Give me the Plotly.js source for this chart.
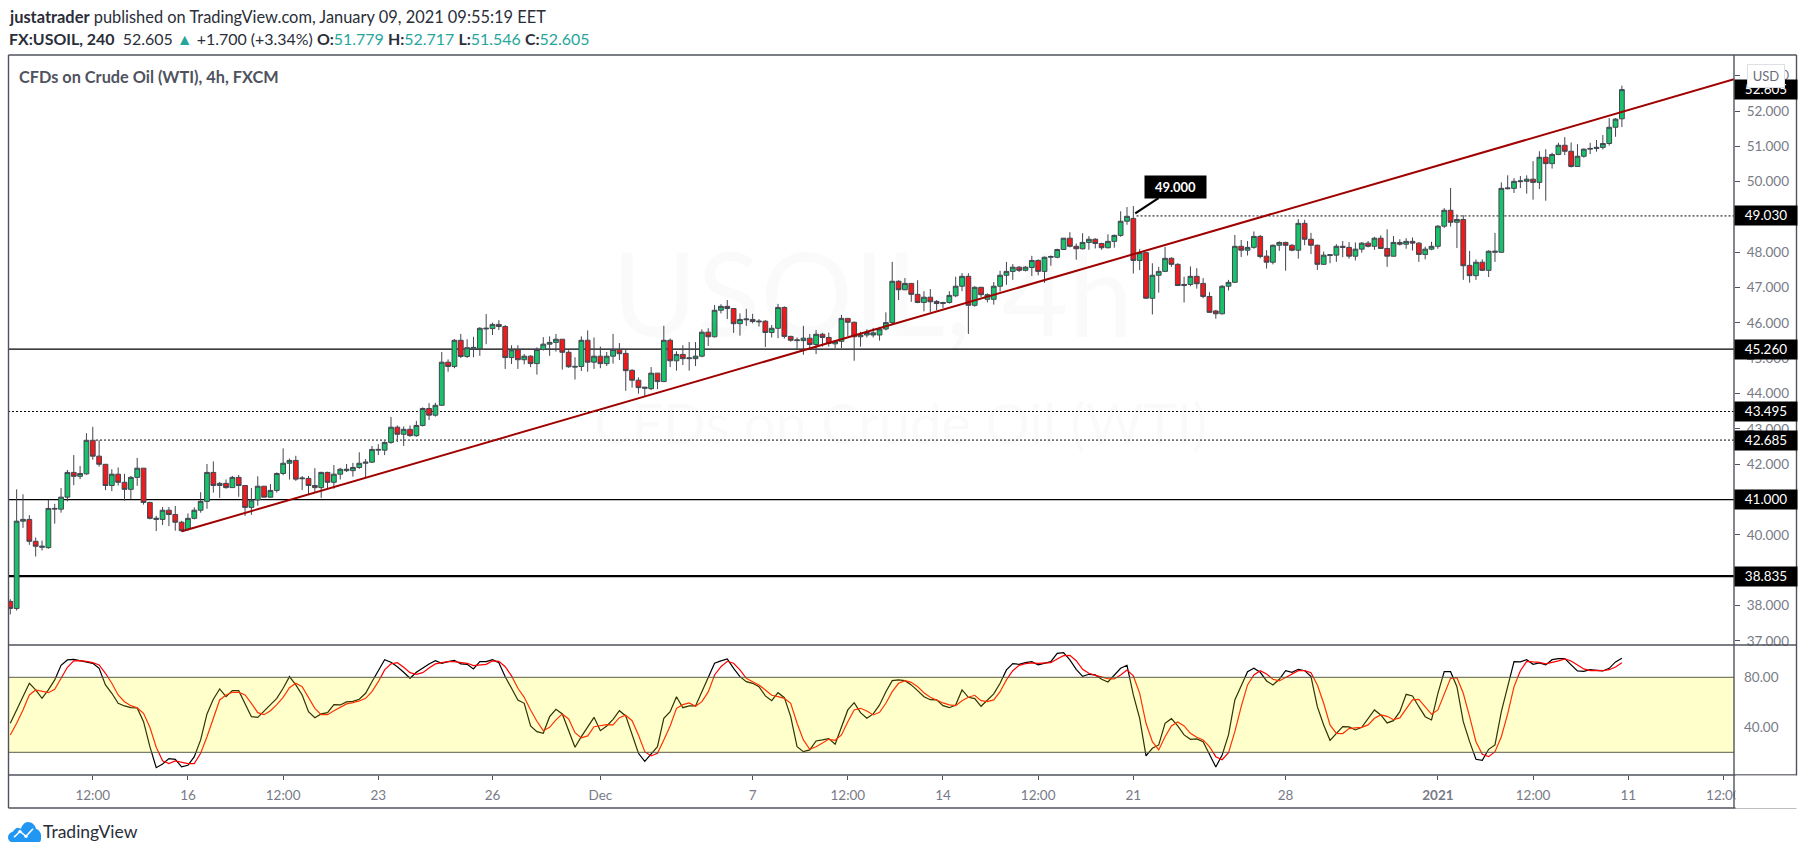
<!DOCTYPE html>
<html><head><meta charset="utf-8">
<script src="https://cdn.plot.ly/plotly-3.0.1.min.js"></script>
<style>html,body{margin:0;padding:0;background:#fff;overflow:hidden}#c{width:1805px;height:855px}</style>
</head><body><div id="c"></div>
<script>
const opens=[38.12,37.92,40.39,40.44,39.82,39.65,39.64,40.73,40.73,41.07,
41.77,41.66,41.73,42.68,42.23,42.00,41.40,41.72,41.49,41.29,
41.63,41.89,40.92,40.44,40.44,40.70,40.58,40.36,40.16,40.47,
40.70,40.95,41.77,41.40,41.46,41.34,41.63,41.40,40.78,40.99,
41.38,41.07,41.26,41.74,42.03,42.11,41.59,41.60,41.40,41.34,
41.77,41.49,41.72,41.82,41.82,41.91,42.03,42.06,42.40,42.40,
42.62,43.05,42.85,42.99,42.81,43.10,43.58,43.39,43.67,44.89,
44.77,45.51,45.05,45.26,45.27,45.83,45.84,45.96,45.90,45.02,
45.24,44.96,45.06,44.85,45.25,45.40,45.45,45.54,45.17,44.75,
44.77,45.51,44.89,45.06,44.85,45.06,45.25,45.14,44.66,44.38,
44.15,44.14,44.58,44.34,45.51,44.93,45.11,44.99,44.99,45.06,
45.74,45.61,46.36,46.47,46.41,45.98,46.09,46.10,46.03,46.05,
45.73,45.85,46.44,45.62,45.50,45.50,45.57,45.39,45.68,45.59,
45.41,45.48,46.13,46.02,45.61,45.66,45.66,45.66,45.83,46.01,
47.18,46.94,47.12,46.81,46.58,46.73,46.61,46.55,46.58,46.77,
47.04,47.32,46.50,47.01,46.67,46.67,47.04,47.35,47.46,47.58,
47.49,47.57,47.77,47.46,47.86,47.86,48.08,48.40,48.17,48.10,
48.28,48.37,48.25,48.13,48.31,48.48,48.88,48.96,47.77,47.99,
46.70,47.35,47.46,47.83,47.66,47.06,47.09,47.32,47.12,46.75,
46.34,46.26,47.04,47.15,48.17,48.06,48.14,48.45,47.89,47.72,
48.20,48.28,48.20,48.06,48.82,48.37,48.20,47.66,47.91,47.92,
48.17,48.14,47.89,48.09,48.26,48.17,48.40,48.11,47.89,48.28,
48.23,48.31,48.26,47.94,48.09,48.17,48.74,49.19,48.85,48.93,
47.63,47.34,47.72,47.49,48.00,48.00,49.80,49.81,50.00,50.01,
50.07,49.98,50.69,50.51,50.77,51.03,50.86,50.43,50.72,50.92,
50.94,50.97,51.08,51.54,51.779];
const highs=[38.18,41.29,41.15,40.56,39.93,39.84,40.99,40.88,41.33,41.84,
42.26,41.95,42.88,43.06,42.68,42.00,41.86,41.91,41.73,41.67,
42.18,41.89,40.94,40.54,40.79,40.79,40.82,40.40,40.61,40.78,
41.21,42.01,42.08,41.50,41.57,41.67,41.70,41.41,41.33,41.66,
41.38,41.44,41.77,42.45,42.16,42.24,41.67,41.67,41.89,41.79,
41.79,41.98,41.90,42.01,42.04,42.34,42.15,42.52,42.57,42.65,
43.34,43.10,43.07,43.10,43.23,43.61,43.73,43.74,45.18,44.97,
45.54,45.69,45.54,45.61,45.88,46.25,46.01,46.08,45.94,45.37,
45.37,45.12,45.09,45.31,45.60,45.62,45.69,45.54,45.23,45.03,
45.62,45.79,45.59,45.33,45.18,45.69,45.43,45.24,44.69,44.46,
44.18,44.75,44.58,45.92,45.56,45.20,45.37,45.46,45.46,45.82,
45.85,46.51,46.53,46.65,46.42,46.27,46.40,46.26,46.11,46.08,
45.94,46.54,46.47,45.64,45.59,45.92,45.69,45.80,45.72,45.73,
45.52,46.23,46.14,46.04,45.75,45.82,45.86,45.89,46.30,47.73,
47.21,47.27,47.13,47.21,46.90,46.96,46.65,46.60,46.90,47.31,
47.41,47.41,47.04,47.02,46.84,47.16,47.48,47.73,47.67,47.61,
47.61,47.90,47.80,47.88,47.91,48.10,48.40,48.57,48.25,48.54,
48.46,48.40,48.27,48.51,48.50,49.16,49.28,49.31,48.09,48.01,
47.69,47.59,48.15,47.86,47.69,47.31,47.60,47.55,47.27,46.87,
46.37,47.07,47.22,48.49,48.35,48.32,48.59,48.49,48.06,48.22,
48.31,48.30,48.23,48.94,48.92,48.55,48.22,48.02,47.93,48.23,
48.32,48.29,48.28,48.29,48.32,48.44,48.48,48.65,48.46,48.37,
48.40,48.42,48.29,48.16,48.30,48.77,49.25,49.82,49.07,49.05,
48.04,47.80,47.80,48.06,48.55,49.98,50.18,50.10,50.16,50.18,
50.58,50.86,50.92,50.82,51.10,51.26,51.11,51.06,50.94,51.10,
51.18,51.32,51.80,51.80,52.717];
const lows=[37.75,37.86,40.20,39.72,39.39,39.56,39.61,40.32,40.63,40.95,
41.41,41.58,41.70,42.13,41.93,41.27,41.24,41.40,40.97,41.01,
41.39,40.86,40.44,40.11,40.28,40.25,40.12,40.08,40.12,40.44,
40.63,40.74,41.20,41.05,41.31,41.34,41.08,40.54,40.57,40.83,
41.07,41.06,41.20,41.69,41.57,41.53,41.27,41.15,41.20,41.05,
41.32,41.31,41.57,41.78,41.65,41.87,41.64,42.04,42.26,42.26,
42.58,42.63,42.52,42.78,42.78,43.07,43.25,43.35,43.66,44.62,
44.72,45.01,45.01,45.03,45.07,45.40,45.66,45.80,44.70,44.84,
44.70,44.83,44.75,44.54,45.22,45.07,45.19,44.68,44.73,44.40,
44.64,44.62,44.70,44.72,44.78,44.85,44.95,44.08,44.17,44.00,
43.92,44.10,44.13,44.33,44.75,44.65,44.81,44.65,44.78,45.03,
45.35,45.59,46.27,46.11,45.72,45.64,45.92,45.99,45.90,45.32,
45.59,45.57,45.56,45.47,45.25,45.10,45.26,45.12,45.33,45.33,
45.29,45.29,45.63,44.93,45.33,45.59,45.59,45.50,45.79,45.97,
46.65,46.93,46.60,46.56,46.33,46.31,46.36,46.42,46.55,46.73,
46.90,45.69,46.46,46.73,46.58,46.52,46.89,47.08,47.22,47.44,
47.46,47.33,47.35,47.14,47.62,47.83,48.07,48.14,47.79,48.08,
48.07,48.11,48.07,48.11,48.13,48.44,48.78,47.40,47.50,46.70,
46.24,46.86,47.44,47.59,47.05,46.58,47.04,46.97,46.70,46.28,
46.12,46.24,46.92,47.14,47.87,47.91,48.10,47.83,47.54,47.66,
48.04,47.48,48.03,47.82,48.20,47.95,47.50,47.64,47.69,47.73,
47.86,47.82,47.77,47.99,48.14,48.07,48.09,47.59,47.88,48.19,
48.10,48.05,47.73,47.80,48.06,48.10,48.69,48.73,48.12,47.22,
47.14,47.22,47.47,47.30,47.73,47.99,49.78,49.68,49.82,49.66,
49.49,49.79,49.46,50.37,50.75,50.75,50.40,50.42,50.68,50.78,
50.85,50.91,51.02,51.27,51.546];
const closes=[37.92,40.39,40.44,39.82,39.68,39.68,40.75,40.75,41.07,41.77,
41.66,41.74,42.68,42.23,42.00,41.40,41.72,41.49,41.29,41.63,
41.89,40.92,40.47,40.47,40.70,40.58,40.36,40.12,40.47,40.70,
40.95,41.77,41.40,41.46,41.34,41.63,41.40,40.78,40.99,41.38,
41.07,41.26,41.74,42.03,42.11,41.58,41.61,41.40,41.34,41.77,
41.49,41.72,41.86,41.86,41.91,42.03,42.06,42.42,42.42,42.62,
43.05,42.85,42.99,42.81,43.10,43.58,43.39,43.67,44.89,44.77,
45.51,45.05,45.30,45.31,45.85,45.85,45.96,45.90,45.02,45.24,
44.96,45.06,44.85,45.25,45.40,45.45,45.54,45.17,44.76,44.77,
45.51,44.89,45.06,44.85,45.06,45.25,45.13,44.65,44.38,44.17,
44.18,44.58,44.34,45.51,44.93,45.11,44.99,45.01,45.06,45.74,
45.61,46.36,46.47,46.41,45.98,46.10,46.11,46.04,46.05,45.73,
45.85,46.44,45.62,45.51,45.52,45.57,45.39,45.68,45.59,45.42,
45.48,46.13,46.02,45.61,45.66,45.73,45.72,45.83,46.01,47.18,
46.94,47.12,46.81,46.58,46.73,46.60,46.55,46.58,46.78,47.04,
47.32,46.50,47.01,46.80,46.80,47.04,47.35,47.46,47.58,47.49,
47.58,47.77,47.46,47.86,47.88,48.08,48.40,48.17,48.10,48.28,
48.37,48.25,48.13,48.31,48.48,48.88,49.02,47.77,47.99,46.70,
47.35,47.46,47.83,47.66,47.06,47.09,47.32,47.11,46.75,46.30,
46.26,47.04,47.15,48.17,48.06,48.14,48.45,47.88,47.72,48.20,
48.28,48.20,48.06,48.82,48.37,48.20,47.66,47.92,47.93,48.17,
48.14,47.89,48.09,48.26,48.17,48.40,48.11,47.89,48.28,48.23,
48.31,48.26,47.94,48.09,48.17,48.74,49.19,48.85,48.93,47.62,
47.34,47.72,47.49,48.03,48.03,49.81,49.82,50.01,50.02,50.07,
49.98,50.69,50.51,50.77,51.03,50.86,50.43,50.72,50.92,50.94,
50.97,51.08,51.54,51.77,52.605];
const stochK=[43.2,53.9,64.5,75.2,69.9,63.2,69.9,77.9,89.6,93.9,
94.4,93.3,92.5,91.2,87.2,73.9,67.2,59.2,57.1,55.7,
55.5,44.5,24.5,7.7,10.7,15.0,14.4,8.3,9.6,16.5,
29.9,50.7,62.4,70.7,64.5,69.3,69.3,59.2,48.5,48.0,
53.3,57.9,63.2,71.2,80.5,73.9,65.9,52.5,47.7,50.7,
51.7,58.1,57.9,60.3,60.8,62.4,67.2,76.5,85.9,94.1,
92.0,88.5,84.0,79.2,84.0,87.7,90.7,93.3,91.2,92.5,
93.6,90.7,90.4,86.7,92.5,92.5,94.1,91.7,80.5,71.2,
61.9,59.2,41.1,36.5,35.2,48.5,54.4,50.7,37.9,24.0,
32.5,40.0,48.0,37.3,41.1,46.4,53.3,49.1,33.9,19.2,
12.8,18.7,24.5,47.2,52.5,64.5,55.7,57.1,57.1,68.5,
79.2,91.2,93.1,94.7,87.2,80.5,76.5,75.2,72.5,65.1,
61.3,67.7,63.7,48.5,24.5,20.5,21.9,29.1,29.9,31.0,
26.4,40.5,53.9,59.7,51.7,47.2,50.7,57.9,68.5,77.3,
77.9,77.3,73.9,69.3,64.5,62.1,61.9,57.3,55.7,57.9,
69.9,64.0,63.0,56.8,61.9,66.7,75.2,85.9,90.9,90.4,
91.7,92.5,89.9,91.2,92.5,99.2,99.7,93.9,86.4,80.8,
82.4,81.9,78.4,76.3,81.6,87.2,89.6,65.9,47.2,17.1,
23.2,25.9,43.2,46.9,41.1,33.9,30.4,30.7,28.5,17.9,
8.3,17.9,33.9,61.9,73.9,84.5,87.2,84.0,77.1,73.9,
78.4,85.3,84.0,86.4,85.3,80.5,56.5,41.9,29.6,35.2,
40.5,40.3,37.9,40.0,46.7,53.9,49.9,43.5,45.3,52.5,
66.4,65.1,56.5,48.5,45.9,67.2,84.5,84.5,72.5,44.5,
28.5,14.4,13.6,22.4,25.9,52.5,72.5,92.5,92.3,94.1,
90.4,91.5,89.9,94.1,94.9,94.9,89.9,85.1,84.8,86.1,
85.6,85.1,87.2,92.3,95.2];
const stochD=[33.9,43.2,53.9,65.9,69.9,69.1,67.7,70.4,79.2,88.0,
93.1,93.3,92.8,91.7,89.9,83.2,75.2,65.9,60.5,57.3,
55.7,51.2,40.0,24.0,13.3,11.0,13.1,12.3,11.0,11.0,
19.2,32.5,48.0,61.9,65.9,68.0,68.0,65.9,59.2,51.7,
50.1,53.3,58.1,64.0,71.7,75.2,72.5,64.0,55.2,50.1,
50.1,53.3,56.0,58.7,59.7,61.1,63.2,68.5,76.5,85.9,
90.7,91.7,88.0,83.7,82.4,83.7,87.5,90.7,91.7,92.5,
92.5,91.7,91.2,89.3,89.9,90.4,93.1,92.8,88.5,81.1,
71.2,64.0,53.9,44.8,37.3,40.0,45.9,50.7,46.7,35.7,
31.5,33.1,40.5,41.6,42.1,41.9,47.7,49.6,45.3,33.9,
20.5,17.1,19.2,29.9,41.1,55.2,58.1,59.5,56.8,60.5,
68.3,81.9,88.5,92.8,91.2,85.9,79.2,76.5,73.9,69.9,
65.6,64.5,63.2,59.2,43.2,29.9,22.4,24.5,27.7,30.4,
29.6,33.9,44.5,53.9,55.2,53.1,49.9,52.0,59.2,68.5,
75.2,77.3,76.0,72.5,67.7,64.0,61.9,59.5,57.9,57.3,
61.3,64.0,65.6,61.3,60.5,61.9,68.5,77.9,85.3,89.6,
90.9,91.5,91.2,91.2,91.7,94.7,97.3,97.6,93.3,86.4,
83.2,81.6,80.5,78.9,78.7,81.9,85.9,81.1,67.2,43.2,
28.5,21.9,32.5,41.1,44.3,41.1,35.2,32.0,29.9,24.5,
16.5,14.1,19.7,36.5,56.5,73.9,81.9,85.3,82.7,78.4,
77.1,79.7,82.7,85.3,85.3,83.7,73.9,59.2,41.9,35.2,
35.0,39.0,39.5,40.0,41.9,47.2,49.9,48.8,46.1,47.5,
54.7,61.9,62.4,56.5,50.4,53.9,65.9,79.2,79.7,67.2,
48.5,28.5,18.4,16.5,20.5,32.5,50.7,72.5,85.3,92.8,
92.3,92.0,90.7,91.7,93.1,94.7,93.1,89.9,86.7,85.3,
85.6,85.3,86.1,88.3,91.7];
const bars=opens.map((_,i)=>i);
const timeTickBars=[13,28,43,58,76,93,117,132,147,162,177,201,225,240,255,270];
const timeTickLabels=['12:00','16','12:00','23','26','Dec','7','12:00','14','12:00','21','28','<b>2021</b>','12:00','11','12:00'];
const priceTicks=[37,38,40,42,43,44,45,46,47,48,50,51,52,53];
const stochTicks=[40,80];
const bandLevels=[20,80];
const levelPrices=[38.835,41.000,42.685,43.495,45.260,49.030];
const levelStart=[-1,-1,13.5,-1,-1,177.5];
const levelDash=['solid','solid','2px,2px','2px,2px','solid','2px,2px'];
const levelWidth=[2.2,1.3,1,1,1.3,1];
const trendBars=[27.05,271.67];
const trendPrices=[40.104,52.897];
const priceTags=[['52.605',52.605],['49.030',49.03],['45.260',45.26],['43.495',43.495],['42.685',42.685],['41.000',41],['38.835',38.835]];

const PL=9,PR=1734,PT=55,PB=775,W=1725,H=720;
const px=x=>(x-PL)/W, py=y=>1-(y-PT)/H;
const FONT='Lato, "Noto Sans", sans-serif';
const GRAY='#787b86', FRAME='#50535e';

const traces=[
 {type:'candlestick',x:bars,open:opens,high:highs,low:lows,close:closes,xaxis:'x',yaxis:'y',
  increasing:{line:{color:'#434651',width:1},fillcolor:'#17c26a'},
  decreasing:{line:{color:'#434651',width:1},fillcolor:'#f01a1a'},
  whiskerwidth:0,hoverinfo:'skip',showlegend:false},
 {type:'scatter',mode:'lines',x:trendBars,y:trendPrices,xaxis:'x',yaxis:'y',line:{color:'#a00000',width:2},hoverinfo:'skip',showlegend:false},
 {type:'scatter',mode:'lines',x:bars,y:stochK,xaxis:'x',yaxis:'y2',line:{color:'#000000',width:1.2},hoverinfo:'skip',showlegend:false},
 {type:'scatter',mode:'lines',x:bars,y:stochD,xaxis:'x',yaxis:'y2',line:{color:'#ff0000',width:1.2},hoverinfo:'skip',showlegend:false}
];
const frame=(x0,y0,x1,y1,w)=>({type:'line',xref:'paper',yref:'paper',x0:px(x0),y0:py(y0),x1:px(x1),y1:py(y1),line:{color:FRAME,width:w||1.4},layer:'above'});
const shapes=[
 {type:'rect',xref:'paper',yref:'y2',x0:0,x1:1,y0:bandLevels[0],y1:bandLevels[1],fillcolor:'rgba(255,255,0,0.2)',line:{width:0},layer:'above'},
 ...bandLevels.map(v=>({type:'line',xref:'paper',yref:'y2',x0:0,x1:1,y0:v,y1:v,line:{color:'#5c5c48',width:1},layer:'above'})),
 ...levelPrices.map((v,i)=>({type:'line',xref:'x',yref:'y',x0:levelStart[i],x1:272,y0:v,y1:v,line:{color:'#000000',width:levelWidth[i],dash:levelDash[i]},layer:'below'})),
 frame(8.5,55,1796.5,55),frame(8.5,645,1796.5,645),frame(8.5,775,1796.5,775),frame(8.5,808,1796.5,808),
 frame(8.5,55,8.5,808),frame(1734,55,1734,808),frame(1796.5,55,1796.5,808)
];
const note=(x,y,text,size,color,extra)=>Object.assign({xref:'paper',yref:'paper',x:px(x),y:py(y),xanchor:'left',yanchor:'middle',showarrow:false,text,font:{family:FONT,size,color}},extra||{});
const T='#26a69a';
const annotations=[
 {xref:'paper',yref:'paper',x:px(1735),y:py(792),xanchor:'left',yanchor:'middle',showarrow:false,text:' ',width:60,height:30,bgcolor:'#ffffff',font:{size:10}},
 note(6.5,17,'<b>justatrader</b> published on TradingView.com, January 09, 2021 09:55:19 EET',16.4,'#2a2e39'),
 note(6.5,38,`<b>FX:USOIL, 240</b>  52.605 <span style="color:${T}">▲</span> +1.700 (+3.34%) <b>O:</b><span style="color:${T}">51.779</span> <b>H:</b><span style="color:${T}">52.717</span> <b>L:</b><span style="color:${T}">51.546</span> <b>C:</b><span style="color:${T}">52.605</span>`,15.95,'#2a2e39'),
 note(17,76.5,'<b>CFDs on Crude Oil (WTI), 4h, FXCM</b>',16.3,'#50535e'),
 note(41,831.5,'TradingView',17.5,'#2a2e39'),
 {xref:'paper',yref:'paper',x:px(872),y:py(292),xanchor:'center',yanchor:'middle',showarrow:false,text:'USOIL, 4h',font:{family:FONT,size:116,color:'rgba(0,0,0,0.018)'}},
 {xref:'paper',yref:'paper',x:px(900),y:py(422),xanchor:'center',yanchor:'middle',showarrow:false,text:'CFDs on Crude Oil (WTI)',font:{family:FONT,size:56,color:'rgba(0,0,0,0.018)'}},
 ...priceTags.map(t=>({xref:'paper',yref:'y',x:1,y:t[1],xanchor:'left',yanchor:'middle',showarrow:false,text:t[0],width:62,height:18.7,align:'center',valign:'middle',bgcolor:'#000000',borderpad:0,font:{family:FONT,size:13.5,color:'#ffffff'}})),
 {xref:'paper',yref:'paper',x:px(1747),y:py(75.7),xanchor:'left',yanchor:'middle',showarrow:false,text:'USD',width:36,height:22,bgcolor:'#ffffff',bordercolor:'#dfe0e3',borderwidth:1,borderpad:0,font:{family:FONT,size:13,color:'#6a6d78'}},
 {xref:'x',yref:'y',x:177.3,y:49.10,ax:40.7,ay:-26.8,axref:'pixel',ayref:'pixel',showarrow:true,arrowhead:0,arrowwidth:2.2,arrowcolor:'#000000',standoff:0,text:'<b>49.000</b>',width:61,height:22,bgcolor:'#000000',borderpad:0,font:{family:FONT,size:13,color:'#ffffff'}}
];
const logo="data:image/svg+xml;utf8,"+encodeURIComponent('<svg xmlns="http://www.w3.org/2000/svg" viewBox="0 0 33 22"><path fill="#2196f3" d="M3 22C1 21 0 19 0 17c0-3 2-5 5-6 1-2 3-4 5-4l3 1c1-4 4-7 7-7 4 0 7 3 8 7 3 1 5 4 5 7v4c0 2-1 3-3 3z"/><path fill="none" stroke="#fff" stroke-width="1.6" d="M6 17l6-6 6 5 7-8"/><circle cx="12" cy="11" r="1.7" fill="#fff"/><circle cx="18" cy="16" r="1.7" fill="#fff"/></svg>');
const layout={
 width:1805,height:855,margin:{l:PL,r:1805-PR,t:PT,b:855-PB,pad:0},paper_bgcolor:'#fff',plot_bgcolor:'#fff',
 showlegend:false,hovermode:false,dragmode:false,boxgap:0.25,boxgroupgap:0,
 xaxis:{type:'linear',anchor:'y2',domain:[0,1],range:[-0.205,271.67],rangeslider:{visible:false},showgrid:false,zeroline:false,showline:false,
  tickmode:'array',tickvals:timeTickBars,ticktext:timeTickLabels,ticks:'outside',ticklen:4,tickcolor:FRAME,tickwidth:1,ticklabelstandoff:4,
  tickfont:{family:FONT,size:13.5,color:GRAY}},
 yaxis:{domain:[130/720,1],range:[36.885,53.585],side:'right',anchor:'x',showgrid:false,zeroline:false,showline:false,
  tickmode:'array',tickvals:priceTicks,ticktext:priceTicks.map(v=>v.toFixed(3)),ticks:'outside',ticklen:5,tickcolor:FRAME,tickwidth:1,ticklabelstandoff:4,
  tickfont:{family:FONT,size:13.5,color:GRAY}},
 yaxis2:{domain:[0,130/720],range:[1.84,105.84],side:'right',anchor:'x',showgrid:false,zeroline:false,showline:false,
  tickmode:'array',tickvals:stochTicks,ticktext:stochTicks.map(v=>v.toFixed(2)),ticks:'',ticklabelstandoff:9,
  tickfont:{family:FONT,size:13.5,color:GRAY}},
 shapes,annotations,
 images:[{source:logo,xref:'paper',yref:'paper',x:px(8),y:py(821),sizex:33/W,sizey:21/H,xanchor:'left',yanchor:'top',sizing:'stretch',layer:'above'}]
};
Plotly.newPlot('c',traces,layout,{staticPlot:true,displayModeBar:false});
</script></body></html>
